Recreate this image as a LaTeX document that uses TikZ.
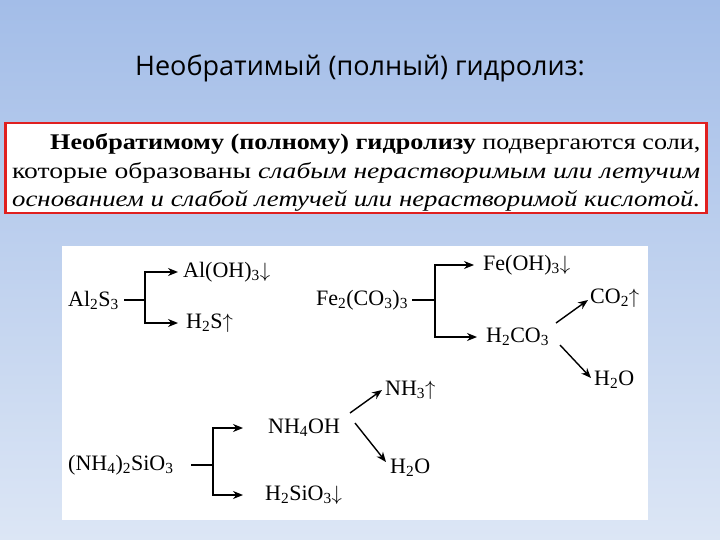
\documentclass[tikz,border=0pt]{standalone}
\usepackage{fontspec}
\setmainfont{Liberation Serif}
\newfontfamily\titlefont{Open Sans}
\usetikzlibrary{arrows.meta}
\definecolor{bgtop}{HTML}{A3BDE8}
\definecolor{bgbot}{HTML}{DCE6F5}
\definecolor{redbox}{HTML}{E02020}
\tikzset{chem/.style={font=\fontsize{22}{24}\selectfont, inner sep=0pt, anchor=west},
 rx/.style={line width=1.4pt,-{Stealth[length=10pt,width=8pt]}},
 ln/.style={line width=1.4pt},
 line/.style={inner sep=0pt, anchor=base west}}
\newcommand{\tres}[3]{\resizebox{#1}{#2}{#3}}
\begin{document}
\begin{tikzpicture}[x=1pt,y=-1pt]
\shade[top color=bgtop,bottom color=bgbot] (0,0) rectangle (720,540);
\useasboundingbox (0,0) rectangle (720,540);
\node (title) at (360,68) {\titlefont\fontsize{27}{30}\selectfont Необратимый (полный) гидролиз:};
\node[draw=redbox,line width=2.5pt,fill=white,minimum width=701pt,minimum height=90pt,inner sep=0pt] (box) at (356,168) {};
\node[line] (l1) at (50,150) {\tres{650pt}{16pt}{\textbf{Необратимому (полному) гидролизу} подвергаются соли,}};
\node[line] (l2) at (12,179) {\tres{688pt}{16pt}{которые образованы \textit{слабым нерастворимым или летучим}}};
\node[line] (l3) at (12,207) {\tres{688pt}{16pt}{\textit{основанием и слабой летучей или нерастворимой кислотой.}}};
\node[fill=white,minimum width=586pt,minimum height=274pt,inner sep=0pt] (panel) at (355,383) {};
% Al2S3
\node[chem] (als) at (68,300) {Al\textsubscript{2}S\textsubscript{3}};
\node[chem] (aloh) at (183,272) {Al(OH)\textsubscript{3}$\downarrow$};
\node[chem] (h2s) at (186,323) {H\textsubscript{2}S$\uparrow$};
\coordinate (j1) at (145,300);
\coordinate (a1) at (178,272);
\coordinate (a2) at (178,323);
\draw[ln] (124,300) -- (j1);
\draw[rx] (j1) |- (a1);
\draw[rx] (j1) |- (a2);
% Fe2(CO3)3
\node[chem] (fe) at (316,300) {Fe\textsubscript{2}(CO\textsubscript{3})\textsubscript{3}};
\node[chem] (feoh) at (483,265) {Fe(OH)\textsubscript{3}$\downarrow$};
\node[chem] (h2co3) at (486,337) {H\textsubscript{2}CO\textsubscript{3}};
\node[chem] (co2) at (590,298) {CO\textsubscript{2}$\uparrow$};
\node[chem] (h2oa) at (594,380) {H\textsubscript{2}O};
\coordinate (j2) at (435,300);
\coordinate (b1) at (474,265);
\coordinate (b2) at (477,337);
\coordinate (c1) at (556,323);
\coordinate (c2) at (588,300);
\coordinate (c3) at (560,345);
\coordinate (c4) at (591,378);
\draw[ln] (412,300) -- (j2);
\draw[rx] (j2) |- (b1);
\draw[rx] (j2) |- (b2);
\draw[rx] (c1) -- (c2);
\draw[rx] (c3) -- (c4);
% (NH4)2SiO3
\node[chem] (nh) at (68,465) {(NH\textsubscript{4})\textsubscript{2}SiO\textsubscript{3}};
\node[chem] (nh4oh) at (268,428) {NH\textsubscript{4}OH};
\node[chem] (h2sio3) at (265,495) {H\textsubscript{2}SiO\textsubscript{3}$\downarrow$};
\node[chem] (nh3) at (385,390) {NH\textsubscript{3}$\uparrow$};
\node[chem] (h2ob) at (390,468) {H\textsubscript{2}O};
\coordinate (j3) at (213,465);
\coordinate (d1) at (243,428);
\coordinate (d2) at (243,495);
\coordinate (e1) at (350,413);
\coordinate (e2) at (382,390);
\coordinate (e3) at (355,423);
\coordinate (e4) at (386,462);
\draw[ln] (191,465) -- (j3);
\draw[rx] (j3) |- (d1);
\draw[rx] (j3) |- (d2);
\draw[rx] (e1) -- (e2);
\draw[rx] (e3) -- (e4);
\end{tikzpicture}
\end{document}
